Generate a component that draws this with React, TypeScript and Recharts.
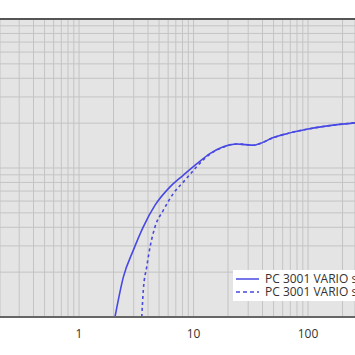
import React from 'react';
import { LineChart, Line, XAxis, YAxis, CartesianGrid, ReferenceLine } from 'recharts';

// pressure (x) and pumping speed (y)
const solidPressure = [2.06, 2.44, 2.98, 3.64, 4.61, 6.23, 8.15, 10.7, 13.9, 18.2, 23.8, 28.5, 33.3, 38.1, 49.8, 65.2, 97.5, 166, 257];
const solidSpeed = [1.0, 1.86, 2.81, 4.03, 5.63, 7.47, 8.96, 10.7, 12.5, 13.9, 14.5, 14.35, 14.2, 14.6, 16.0, 17.0, 18.2, 19.4, 20.1];

const dashedPressure = [3.53, 3.64, 3.9, 4.17, 4.61, 5.45, 6.66, 8.43, 10.66, 13.0, 18.2, 23.8, 28.5, 33.3, 38.1, 49.8, 65.2, 97.5, 166, 257];
const dashedSpeed = [1.0, 1.51, 2.17, 2.95, 4.03, 5.21, 6.75, 8.29, 10.2, 11.9, 13.8, 14.5, 14.35, 14.2, 14.6, 16.0, 17.0, 18.2, 19.4, 20.1];

const xTicks = [0.3, 0.4, 0.5, 0.6, 0.7, 0.8, 0.9, 1, 2, 3, 4, 5, 6, 7, 8, 9, 10, 20, 30, 40, 50, 60, 70, 80, 90, 100, 200];
const yTicks = [1, 2, 3, 4, 5, 6, 7, 8, 9, 10, 20, 30, 40, 50, 60, 70, 80, 90, 100];
const xLabels = [1, 10, 100];

const seriesNames = ['PC 3001 VARIO select', 'PC 3001 VARIO select, Gasballast'];

const BLUE = '#4848e4';

const solidData = solidPressure.map((p, i) => ({ x: p, y: solidSpeed[i] }));
const dashedData = dashedPressure.map((p, i) => ({ x: p, y: dashedSpeed[i] }));

const LegendBox = () => (
  <div
    style={{
      position: 'absolute',
      left: 233,
      top: 270,
      background: '#fff',
      padding: '2px 0 3px 2px',
      fontFamily: '"Open Sans", sans-serif',
      fontSize: 12,
      color: '#333',
      whiteSpace: 'nowrap',
      lineHeight: '13px',
    }}
  >
    {seriesNames.map((name, i) => (
      <div key={name} style={{ display: 'flex', alignItems: 'center', height: 13 }}>
        <svg width={28} height={12}>
          <line x1={1} x2={24} y1={6} y2={6} stroke={BLUE} strokeWidth={1.5} strokeDasharray={i === 1 ? '4 3' : undefined} />
        </svg>
        <span style={{ marginLeft: 2 }}>{name}</span>
      </div>
    ))}
  </div>
);

export default function App() {
  return (
    <div style={{ position: 'absolute', left: 0, top: 0, width: 355, height: 355, overflow: 'hidden', background: '#fff' }}>
      <LineChart width={355} height={355} margin={{ top: 19, right: 0, left: 0, bottom: 8 }}>
        <CartesianGrid fill="#e4e4e4" stroke="#c4c4c4" strokeWidth={1} />
        <XAxis
          dataKey="x"
          type="number"
          scale="log"
          domain={[0.204, 257]}
          allowDataOverflow
          ticks={xTicks}
          interval={0}
          height={30}
          tickLine={false}
          tickMargin={6}
          axisLine={{ stroke: '#666', strokeWidth: 2 }}
          tick={{ fill: '#333', fontSize: 12, fontFamily: '"Open Sans", sans-serif' }}
          tickFormatter={(v: number) => (xLabels.includes(v) ? String(v) : '')}
        />
        <YAxis
          dataKey="y"
          type="number"
          scale="log"
          domain={[1, 100]}
          allowDataOverflow
          ticks={yTicks}
          interval={0}
          width={0}
          tickLine={false}
          axisLine={false}
          tickFormatter={() => ''}
        />
        <ReferenceLine y={100} stroke="#555" strokeWidth={2} />
        <Line
          data={solidData}
          dataKey="y"
          type="monotone"
          stroke={BLUE}
          strokeWidth={1.6}
          dot={false}
          isAnimationActive={false}
        />
        <Line
          data={dashedData}
          dataKey="y"
          type="monotone"
          stroke={BLUE}
          strokeWidth={1.6}
          strokeDasharray="3 3"
          dot={false}
          isAnimationActive={false}
        />
      </LineChart>
      <LegendBox />
    </div>
  );
}
